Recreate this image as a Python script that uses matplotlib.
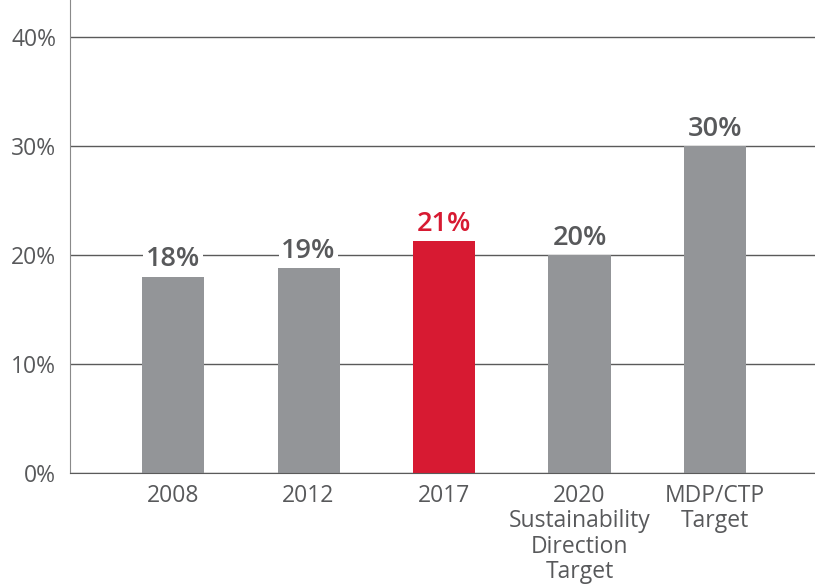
import matplotlib.pyplot as plt
import numpy as np

categories = ['2008', '2012', '2017', '2020\nSustainability\nDirection\nTarget', 'MDP/CTP\nTarget']
values = [18.0, 18.8, 21.3, 20.0, 30.0]
labels = ['18%', '19%', '21%', '20%', '30%']
highlight = 2

plt.rcParams['font.family'] = ['Open Sans', 'DejaVu Sans']

grey = '#939598'
red = '#d71a32'
text_grey = '#58595b'

fig = plt.figure(figsize=(8.15, 5.86), dpi=100)
ax = fig.add_axes([0.086, 0.193, 0.914, 0.807])

x = np.arange(len(categories))
colors = [red if i == highlight else grey for i in range(len(values))]
ax.bar(x, values, width=0.458, color=colors, zorder=2)

for i, (v, lab) in enumerate(zip(values, labels)):
    ax.text(i, v + 0.3, lab, ha='center', va='bottom', fontsize=19.5, fontweight='semibold',
            color=red if i == highlight else text_grey, zorder=3,
            bbox=dict(facecolor='white', edgecolor='none', pad=2))

ax.set_xlim(-0.76, 4.738)
ax.set_ylim(0, 43.4)
ax.set_yticks([0, 10, 20, 30, 40])
ax.set_yticklabels(['0%', '10%', '20%', '30%', '40%'])
ax.set_xticks(x)
ax.set_xticklabels(categories, linespacing=1.08)
ax.yaxis.grid(True, color='#5a5a5a', linewidth=1.0, zorder=0)
ax.set_axisbelow(True)
ax.tick_params(axis='both', length=0, labelsize=16.5, colors=text_grey)
ax.tick_params(axis='y', pad=10)
ax.tick_params(axis='x', pad=8)

for s in ['top', 'right']:
    ax.spines[s].set_visible(False)
ax.spines['left'].set_color('#8a8a8a')
ax.spines['bottom'].set_color('#5a5a5a')

fig.savefig('out.png', dpi=100)
